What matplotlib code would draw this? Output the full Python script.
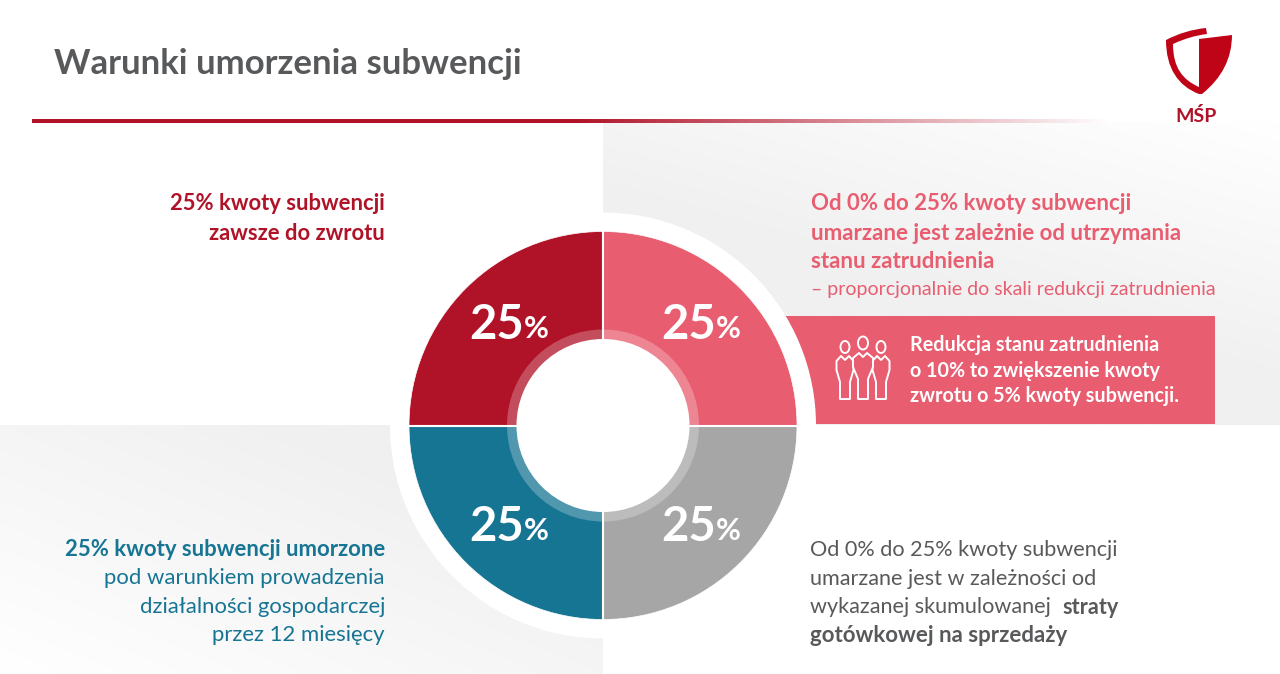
import numpy as np
import matplotlib
matplotlib.use("Agg")
import matplotlib.pyplot as plt
from matplotlib.patches import Circle, Ellipse, Rectangle, PathPatch, Polygon
from matplotlib.path import Path
from matplotlib.colors import LinearSegmentedColormap

plt.rcParams['font.family'] = ['Lato', 'DejaVu Sans']

# chart data
shares = [25, 25, 25, 25]
slice_colors = ['#e85d70', '#a6a6a6', '#177594', '#b01228']
share_labels = ['25', '25', '25', '25']
title = 'Warunki umorzenia subwencji'

RED = '#b01228'
PINK = '#e85d70'
TEAL = '#177594'
GREY = '#58595b'
CX, CY = 603, 425.5

fig = plt.figure(figsize=(12.8, 6.74), dpi=100)
ax = fig.add_axes([0, 0, 1, 1])
ax.axis('off')

# grey panels behind the text, diagonal fade to white
fade = LinearSegmentedColormap.from_list('fade', ['#ffffff', '#f0f0f0'])
u, v = np.meshgrid(np.linspace(0, 1, 200), np.linspace(0, 1, 200))
ax.imshow(np.clip((0.8 * v + 0.5 * (1 - u)) / 0.7, 0, 1), cmap=fade, aspect='auto',
          extent=(603, 1280, 425, 122), origin='upper', zorder=0)
ax.imshow(np.clip((0.6 * u + 0.6 * (1 - v)) / 0.9, 0, 1), cmap=fade, aspect='auto',
          extent=(0, 603, 674, 425), origin='upper', zorder=0)

# red rule under the title
rule = LinearSegmentedColormap.from_list('rule', [RED, RED, '#ffffff'])
ax.imshow(np.linspace(0, 1, 256).reshape(1, -1), cmap=rule, aspect='auto',
          extent=(32, 1112, 123, 119), zorder=1)

ax.text(54, 64, title, fontsize=25, fontweight='bold', color=GREY, va='center', ha='left')

# pink banner, cut by the white halo
ax.add_patch(Rectangle((760, 316), 455, 108, fc=PINK, ec='none', zorder=2))
ax.add_patch(Circle((CX, CY), 213, fc='white', ec='none', zorder=3))

# donut, y axis points down so the slices run the other way
wedges, _ = ax.pie(shares, colors=slice_colors, center=(CX, CY), radius=194, startangle=-90,
                   counterclock=True, frame=True,
                   wedgeprops={'edgecolor': 'white', 'linewidth': 0.5})
for w in wedges:
    w.set_zorder(4)
ax.add_patch(Circle((CX, CY), 96, fc='white', alpha=0.25, ec='none', zorder=5))
ax.plot([CX, CX], [CY - 195, CY + 195], color='white', lw=1.5, zorder=5)
ax.plot([CX - 195, CX + 195], [CY, CY], color='white', lw=1.5, zorder=5)
ax.add_patch(Circle((CX, CY), 86.5, fc='white', ec='none', zorder=6))

label_pos = [(661, 325), (661, 527), (469, 527), (469, 325)]
for (px, py), lab in zip(label_pos, share_labels):
    ax.text(px, py, lab, fontsize=34, fontweight='bold', color='white', va='center', ha='left', zorder=7)
    ax.text(px + 55, py + 4, '%', fontsize=22, fontweight='bold', color='white', va='center', ha='left', zorder=7)

# top left
ax.text(385, 204, '25% kwoty subwencji', fontsize=15.8, fontweight='bold', color=RED, ha='right', va='center')
ax.text(385, 233, 'zawsze do zwrotu', fontsize=15.8, fontweight='bold', color=RED, ha='right', va='center')

# top right
for y, s in zip([204, 233, 261], ['Od 0% do 25% kwoty subwencji',
                                  'umarzane jest zależnie od utrzymania',
                                  'stanu zatrudnienia']):
    ax.text(811, y, s, fontsize=16, fontweight='bold', color=PINK, va='center')
ax.text(811, 289, '– proporcjonalnie do skali redukcji zatrudnienia', fontsize=14,
        color=PINK, va='center')

# banner text
for y, s in zip([345, 371, 396], ['Redukcja stanu zatrudnienia',
                                  'o 10% to zwiększenie kwoty',
                                  'zwrotu o 5% kwoty subwencji.']):
    ax.text(910, y, s, fontsize=14.2, fontweight='bold', color='white', va='center', zorder=4)

# bottom left
ax.text(385, 549, '25% kwoty subwencji umorzone', fontsize=15.9, fontweight='bold', color=TEAL, ha='right', va='center')
for y, s in zip([578, 607, 635], ['pod warunkiem prowadzenia', 'działalności gospodarczej', 'przez 12 miesięcy']):
    ax.text(385, y, s, fontsize=15.9, color=TEAL, ha='right', va='center')

# bottom right
for y, s in zip([550, 579, 607], ['Od 0% do 25% kwoty subwencji', 'umarzane jest w zależności od',
                                  'wykazanej skumulowanej']):
    ax.text(810, y, s, fontsize=15.6, color=GREY, va='center')
ax.text(1062, 607, 'straty', fontsize=15.6, fontweight='bold', color=GREY, va='center')
ax.text(810, 635, 'gotówkowej na sprzedaży', fontsize=16, fontweight='bold', color=GREY, va='center')

# people icon in the banner
def person(x, head_y, rx, s, b, w):
    ax.add_patch(Ellipse((x, head_y), 2 * rx, 2 * rx + 3, fc='none', ec='white', lw=1.4, zorder=5))
    l = 5
    verts = [(x - 4, s), (x, s + 4), (x + 4, s), (x + w, s + 5), (x + w, s + 14), (x + l, s + 26),
             (x + l, b), (x - l, b), (x - l, s + 26), (x - w, s + 14), (x - w, s + 5)]
    ax.add_patch(Polygon(verts, closed=True, fc=PINK, ec='white', lw=1.4, joinstyle='round', zorder=5))

person(845, 347, 4.5, 356, 399, 8.5)
person(881, 347, 4.5, 356, 399, 8.5)
person(863, 343, 5, 353, 399, 10)

# logo, curved left band and filled right half
C3, C4 = Path.CURVE3, Path.CURVE4
band = Path([(1166, 40), (1185, 30), (1206, 28), (1207, 34), (1190, 36), (1173, 44),
             (1173, 68), (1183, 80), (1199, 87), (1199, 94), (1178, 86), (1166, 68), (1166, 40)],
            [Path.MOVETO, C3, C3, Path.LINETO, C3, C3, C4, C4, C4, Path.LINETO, C4, C4, C4])
ax.add_patch(PathPatch(band, fc='#c00418', ec='none', zorder=5))
half = Path([(1199, 39), (1232, 35), (1232, 70), (1202, 94), (1199, 94), (1199, 39)],
            [Path.MOVETO, Path.LINETO, C3, C3, Path.LINETO, Path.CLOSEPOLY])
ax.add_patch(PathPatch(half, fc='#c00418', ec='none', zorder=5))
ax.text(1196, 116, 'MŚP', fontsize=14, fontweight='bold', color='#b01228', ha='center', va='center')

ax.set_xlim(0, 1280)
ax.set_ylim(674, 0)
ax.set_aspect('auto')
fig.savefig('out.png', dpi=100)
